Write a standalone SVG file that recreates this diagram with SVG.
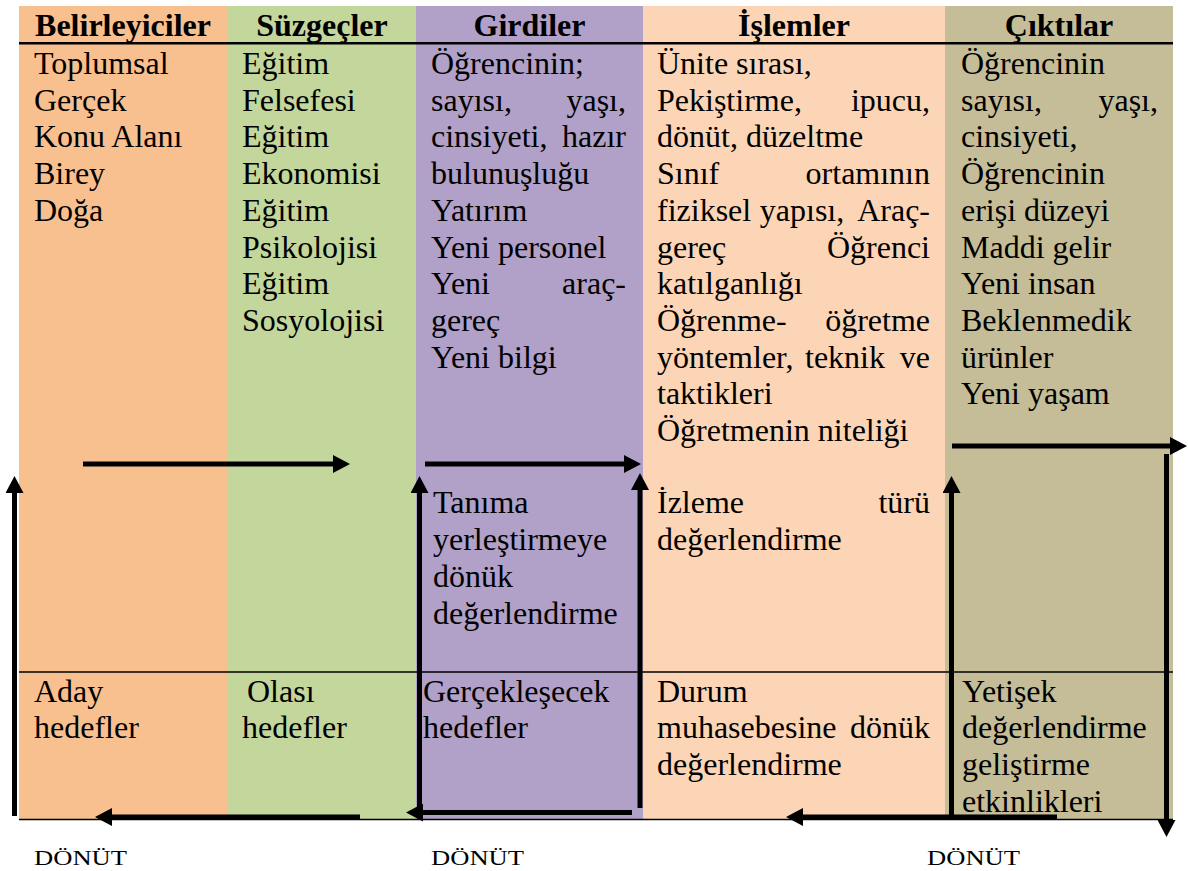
<svg xmlns="http://www.w3.org/2000/svg" width="1188" height="871" viewBox="0 0 1188 871">
  <style>
    .hd { font-family: "Liberation Serif", "Times New Roman", serif; font-weight: bold; font-size: 32px; fill: #000; text-anchor: middle; }
    .tx { font-family: "Liberation Serif", "Times New Roman", serif; font-size: 32px; fill: #000; }
    .end { text-anchor: end; }
    .mid { text-anchor: middle; }
    .fb { font-family: "Liberation Serif", "Times New Roman", serif; font-size: 22px; fill: #000; }
    .rule { stroke: #000; fill: none; }
    .arw { stroke: #000; stroke-width: 5; fill: none; marker-end: url(#head); }
  </style>
  <defs>
    <marker id="head" viewBox="0 0 17 18" refX="0" refY="9" markerWidth="17" markerHeight="18" markerUnits="userSpaceOnUse" orient="auto">
      <path d="M0,0 L17,9 L0,18 Z" fill="#000"/>
    </marker>
  </defs>

  <rect width="1188" height="871" fill="#fff"/>

  <!-- Belirleyiciler -->
  <g id="belirleyiciler">
    <rect x="19" y="6" width="208" height="813" fill="#F8BF8F"/>
    <text class="hd" x="123" y="36">Belirleyiciler</text>
    <text class="tx" x="34" y="74">Toplumsal</text>
    <text class="tx" x="34" y="110.7">Gerçek</text>
    <text class="tx" x="34" y="147.4">Konu Alanı</text>
    <text class="tx" x="34" y="184.1">Birey</text>
    <text class="tx" x="34" y="220.8">Doğa</text>
    <text class="tx" x="34" y="702">Aday</text>
    <text class="tx" x="34" y="738">hedefler</text>
  </g>

  <!-- Süzgeçler -->
  <g id="suzgecler">
    <rect x="227" y="6" width="189" height="813" fill="#C3D69B"/>
    <text class="hd" x="322" y="36">Süzgeçler</text>
    <text class="tx" x="242" y="74">Eğitim</text>
    <text class="tx" x="242" y="110.7">Felsefesi</text>
    <text class="tx" x="242" y="147.4">Eğitim</text>
    <text class="tx" x="242" y="184.1">Ekonomisi</text>
    <text class="tx" x="242" y="220.8">Eğitim</text>
    <text class="tx" x="242" y="257.5">Psikolojisi</text>
    <text class="tx" x="242" y="294.2">Eğitim</text>
    <text class="tx" x="242" y="330.9">Sosyolojisi</text>
    <text class="tx" x="247" y="702">Olası</text>
    <text class="tx" x="242" y="738">hedefler</text>
  </g>

  <!-- Girdiler -->
  <g id="girdiler">
    <rect x="416" y="6" width="227" height="813" fill="#B1A0C7"/>
    <text class="hd" x="529.5" y="36">Girdiler</text>
    <text class="tx" x="431" y="74">Öğrencinin;</text>
    <text class="tx" x="431" y="110.7">sayısı,</text>
    <text class="tx end" x="626" y="110.7">yaşı,</text>
    <text class="tx" x="431" y="147.4">cinsiyeti,</text>
    <text class="tx end" x="626" y="147.4">hazır</text>
    <text class="tx" x="431" y="184.1">bulunuşluğu</text>
    <text class="tx" x="431" y="220.8">Yatırım</text>
    <text class="tx" x="431" y="257.5">Yeni personel</text>
    <text class="tx" x="431" y="294.2">Yeni</text>
    <text class="tx end" x="626" y="294.2">araç-</text>
    <text class="tx" x="431" y="330.9">gereç</text>
    <text class="tx" x="431" y="367.6">Yeni bilgi</text>
    <text class="tx" x="433" y="513">Tanıma</text>
    <text class="tx" x="433" y="550">yerleştirmeye</text>
    <text class="tx" x="433" y="587">dönük</text>
    <text class="tx" x="433" y="624">değerlendirme</text>
    <text class="tx" x="423" y="702">Gerçekleşecek</text>
    <text class="tx" x="423" y="738">hedefler</text>
  </g>

  <!-- İşlemler -->
  <g id="islemler">
    <rect x="643" y="6" width="302" height="813" fill="#FBD5B5"/>
    <text class="hd" x="794" y="36">İşlemler</text>
    <text class="tx" x="657" y="74">Ünite sırası,</text>
    <text class="tx" x="657" y="110.7">Pekiştirme,</text>
    <text class="tx end" x="930" y="110.7">ipucu,</text>
    <text class="tx" x="657" y="147.4">dönüt, düzeltme</text>
    <text class="tx" x="657" y="184.1">Sınıf</text>
    <text class="tx end" x="930" y="184.1">ortamının</text>
    <text class="tx" x="657" y="220.8">fiziksel</text>
    <text class="tx mid" x="802" y="220.8">yapısı,</text>
    <text class="tx end" x="930" y="220.8">Araç-</text>
    <text class="tx" x="657" y="257.5">gereç</text>
    <text class="tx end" x="930" y="257.5">Öğrenci</text>
    <text class="tx" x="657" y="294.2">katılganlığı</text>
    <text class="tx" x="657" y="330.9">Öğrenme-</text>
    <text class="tx end" x="930" y="330.9">öğretme</text>
    <text class="tx" x="657" y="367.6">yöntemler,</text>
    <text class="tx mid" x="845" y="367.6">teknik</text>
    <text class="tx end" x="930" y="367.6">ve</text>
    <text class="tx" x="657" y="404.3">taktikleri</text>
    <text class="tx" x="657" y="441">Öğretmenin niteliği</text>
    <text class="tx" x="657" y="513">İzleme</text>
    <text class="tx end" x="930" y="513">türü</text>
    <text class="tx" x="657" y="550">değerlendirme</text>
    <text class="tx" x="657" y="702">Durum</text>
    <text class="tx" x="657" y="738">muhasebesine</text>
    <text class="tx end" x="930" y="738">dönük</text>
    <text class="tx" x="657" y="775">değerlendirme</text>
  </g>

  <!-- Çıktılar -->
  <g id="ciktilar">
    <rect x="945" y="6" width="228" height="813" fill="#C4BD97"/>
    <text class="hd" x="1059" y="36">Çıktılar</text>
    <text class="tx" x="961" y="74">Öğrencinin</text>
    <text class="tx" x="961" y="110.7">sayısı,</text>
    <text class="tx end" x="1158" y="110.7">yaşı,</text>
    <text class="tx" x="961" y="147.4">cinsiyeti,</text>
    <text class="tx" x="961" y="184.1">Öğrencinin</text>
    <text class="tx" x="961" y="220.8">erişi düzeyi</text>
    <text class="tx" x="961" y="257.5">Maddi gelir</text>
    <text class="tx" x="961" y="294.2">Yeni insan</text>
    <text class="tx" x="961" y="330.9">Beklenmedik</text>
    <text class="tx" x="961" y="367.6">ürünler</text>
    <text class="tx" x="961" y="404.3">Yeni yaşam</text>
    <text class="tx" x="962" y="702">Yetişek</text>
    <text class="tx" x="962" y="738">değerlendirme</text>
    <text class="tx" x="962" y="775">geliştirme</text>
    <text class="tx" x="962" y="812">etkinlikleri</text>
  </g>

  <!-- table rules -->
  <g id="rules">
    <line class="rule" x1="19" y1="43.3" x2="1173" y2="43.3" stroke-width="2.6"/>
    <line class="rule" x1="19" y1="672" x2="1173" y2="672" stroke-width="1.6"/>
    <line class="rule" x1="19" y1="819.5" x2="1173" y2="819.5" stroke-width="1.6"/>
  </g>

  <!-- flow and feedback connectors -->
  <g id="connectors">
    <line class="arw" x1="14.5" y1="816" x2="14.5" y2="493"/>
    <line class="arw" x1="83" y1="464" x2="333" y2="464" stroke-width="6"/>
    <line class="arw" x1="425" y1="464" x2="624" y2="464" stroke-width="6"/>
    <line class="arw" x1="419.5" y1="818" x2="419.5" y2="493"/>
    <line class="arw" x1="640" y1="808" x2="640" y2="490"/>
    <line class="arw" x1="632" y1="812.5" x2="423" y2="812.5"/>
    <line class="arw" x1="360" y1="817" x2="112" y2="817"/>
    <line class="arw" x1="951.5" y1="819" x2="951.5" y2="493"/>
    <line class="arw" x1="952" y1="446" x2="1170" y2="446"/>
    <line class="arw" x1="1166.5" y1="454" x2="1166.5" y2="820"/>
    <line class="arw" x1="1057" y1="817" x2="803" y2="817"/>
  </g>

  <!-- feedback labels -->
  <g id="labels">
    <text class="fb" x="34" y="865" textLength="93" lengthAdjust="spacingAndGlyphs">DÖNÜT</text>
    <text class="fb" x="431" y="865" textLength="93" lengthAdjust="spacingAndGlyphs">DÖNÜT</text>
    <text class="fb" x="927" y="865" textLength="93" lengthAdjust="spacingAndGlyphs">DÖNÜT</text>
  </g>
</svg>
